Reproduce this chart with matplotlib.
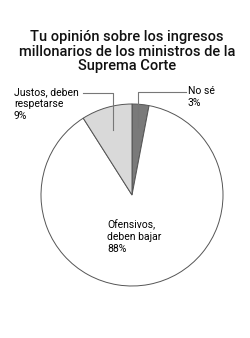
import numpy as np
import matplotlib.pyplot as plt

labels = ["No sé", "Ofensivos,\ndeben bajar", "Justos, deben\nrespetarse"]
values = [3, 88, 9]
colors = ["#7a7a7a", "#ffffff", "#d9d9d9"]
title = "Tu opinión sobre los ingresos\nmillonarios de los ministros de la\nSuprema Corte"

W, H = 250, 338
fig = plt.figure(figsize=(W / 100, H / 100), dpi=100)
ax = fig.add_axes([0, 0, 1, 1])
ax.set_xlim(0, W)
ax.set_ylim(0, H)
ax.set_aspect("equal")
ax.axis("off")

cx, cy, r = 132, H - 195, 91
wedges, _ = ax.pie(values, colors=colors, startangle=90, counterclock=False,
                   center=(cx, cy), radius=r,
                   wedgeprops=dict(edgecolor="#555555", linewidth=0.7))
ax.set_xlim(0, W)
ax.set_ylim(0, H)

font = "Roboto"
fig.text(0.508, 1 - 30 / H, title, ha="center", va="top", fontsize=10.5,
         fontweight="medium", family=font, linespacing=1.05, color="#111111")

lc = "#777777"


def mid(w):
    a = np.deg2rad((w.theta1 + w.theta2) / 2)
    return cx + 68 * np.cos(a), cy + 68 * np.sin(a)


# No sé
x0, y0 = mid(wedges[0])
ax.plot([x0, x0, 186], [y0, H - 92, H - 92], color=lc, lw=0.8)
ax.text(188, H - 86, f"{labels[0]}\n{values[0]}%", ha="left", va="top",
        fontsize=7.5, family=font, linespacing=1.25)

# Justos
x1, y1 = mid(wedges[2])
ax.plot([x1, x1, 83], [y1, H - 93, H - 93], color=lc, lw=0.8)
ax.text(14, H - 87, f"{labels[2]}\n{values[2]}%", ha="left", va="top",
        fontsize=7.5, family=font, linespacing=1.25)

# Ofensivos
ax.text(107, H - 219, f"{labels[1]}\n{values[1]}%", ha="left", va="top",
        fontsize=7.5, family=font, linespacing=1.25)

fig.savefig("out.png", dpi=100)
